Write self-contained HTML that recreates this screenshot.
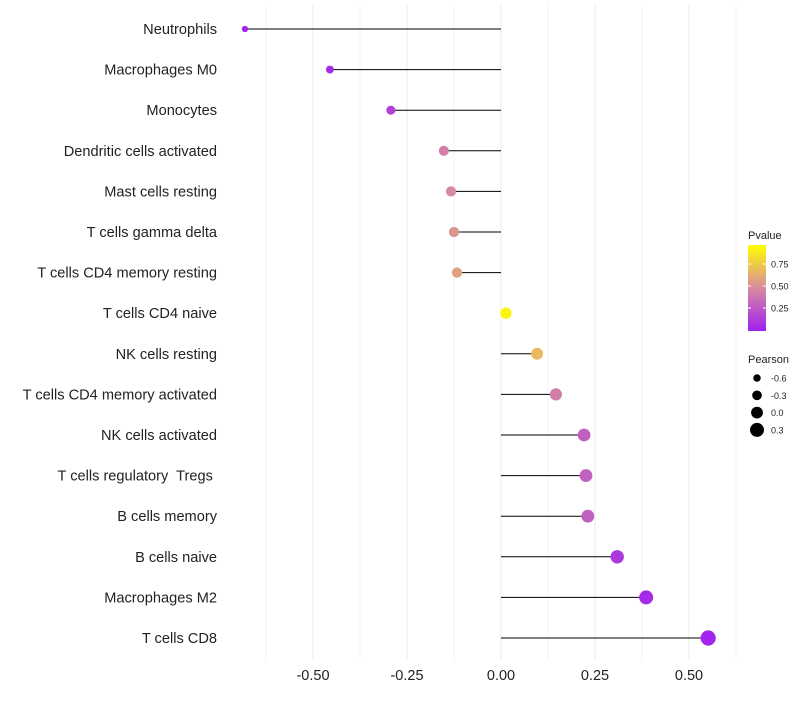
<!DOCTYPE html>
<html><head><meta charset="utf-8"><style>
body{margin:0;background:#fff;font-family:"Liberation Sans",sans-serif;}
</style></head><body>
<svg id="chart" width="800" height="700" xmlns="http://www.w3.org/2000/svg"></svg>
<script>
const categories=["Neutrophils","Macrophages M0","Monocytes","Dendritic cells activated","Mast cells resting","T cells gamma delta","T cells CD4 memory resting","T cells CD4 naive","NK cells resting","T cells CD4 memory activated","NK cells activated","T cells regulatory  Tregs ","B cells memory","B cells naive","Macrophages M2","T cells CD8"];
const pearson=[-0.681,-0.455,-0.293,-0.152,-0.133,-0.125,-0.117,0.013,0.096,0.146,0.221,0.226,0.231,0.309,0.386,0.551];
const pvalue=[0.02,0.05,0.15,0.45,0.5,0.55,0.6,0.95,0.7,0.45,0.3,0.3,0.3,0.12,0.05,0.02];
const xTicks=[-0.5,-0.25,0,0.25,0.5];
const xTickLabels=["-0.50","-0.25","0.00","0.25","0.50"];
const pTicks=[0.25,0.5,0.75];
const sizeLegend=[-0.6,-0.3,0.0,0.3];

const svg=document.getElementById('chart');
const NS='http://www.w3.org/2000/svg';
function mk(t,a,p){const e=document.createElementNS(NS,t);for(const k in a)e.setAttribute(k,a[k]);(p||svg).appendChild(e);return e;}
const x=v=>501+v*376;
const y=i=>29+i*40.6;
const r=v=>Math.max(2,5.6+v*3.6);
function lerp(a,b,t){return a.map((v,i)=>Math.round(v+(b[i]-v)*t));}
function col(p){const s=[[160,32,240],[216,138,160],[255,255,0]];let c=p<0.5?lerp(s[0],s[1],p/0.5):lerp(s[1],s[2],(p-0.5)/0.5);return `rgb(${c[0]},${c[1]},${c[2]})`;}

for(let v=-0.625;v<=0.63;v+=0.125){
 const g=mk('line',{x1:x(v),x2:x(v),y1:5,y2:660,stroke:'#ebebeb','stroke-width':Math.abs((v*4)%1)<0.01?1:0.6});
 
 
}
xTicks.forEach((v,i)=>{
 const t=mk('text',{x:x(v),y:680,'text-anchor':'middle','font-size':14.5,fill:'#222'});
 t.textContent=xTickLabels[i];
 
 
});
categories.forEach((c,i)=>{
 const t=mk('text',{x:217,y:y(i)+5,'text-anchor':'end','font-size':14.6,fill:'#222','xml:space':'preserve'});
 t.style.whiteSpace='pre';
 t.textContent=c;
 
 
 const l=mk('line',{x1:x(0),x2:x(pearson[i]),y1:y(i),y2:y(i),stroke:'#000','stroke-width':1});
 
 
 const p=mk('circle',{cx:x(pearson[i]),cy:y(i),r:r(pearson[i]),fill:col(pvalue[i])});
 
 
});
const lt=mk('text',{x:748,y:239,'font-size':11,fill:'#222'});lt.textContent='Pvalue';


const defs=mk('defs',{});
const gr=mk('linearGradient',{id:'pg',x1:0,y1:1,x2:0,y2:0},defs);
[[0,0],[0.5,0.5],[1,1]].forEach(s=>mk('stop',{offset:s[0],'stop-color':col(s[1])},gr));
const cb=mk('rect',{x:748,y:245,width:18,height:86,fill:'url(#pg)'});


const py=p=>330-p*88;
pTicks.forEach(p=>{
 mk('line',{x1:748,x2:751,y1:py(p),y2:py(p),stroke:'#fff'});
 mk('line',{x1:763,x2:766,y1:py(p),y2:py(p),stroke:'#fff'});
 const t=mk('text',{x:771,y:py(p)+3.5,'font-size':9,fill:'#222'});t.textContent=p.toFixed(2);
 
 
});
const st=mk('text',{x:748,y:363,'font-size':11,fill:'#222'});st.textContent='Pearson';


sizeLegend.forEach((v,i)=>{
 const cy=378+i*17.3;
 const c=mk('circle',{cx:757,cy:cy,r:r(v)+0.3,fill:'#000'});
 
 
 const t=mk('text',{x:771,y:cy+3.5,'font-size':9,fill:'#222'});t.textContent=v.toFixed(1);
 
 
});
</script>
</body></html>
